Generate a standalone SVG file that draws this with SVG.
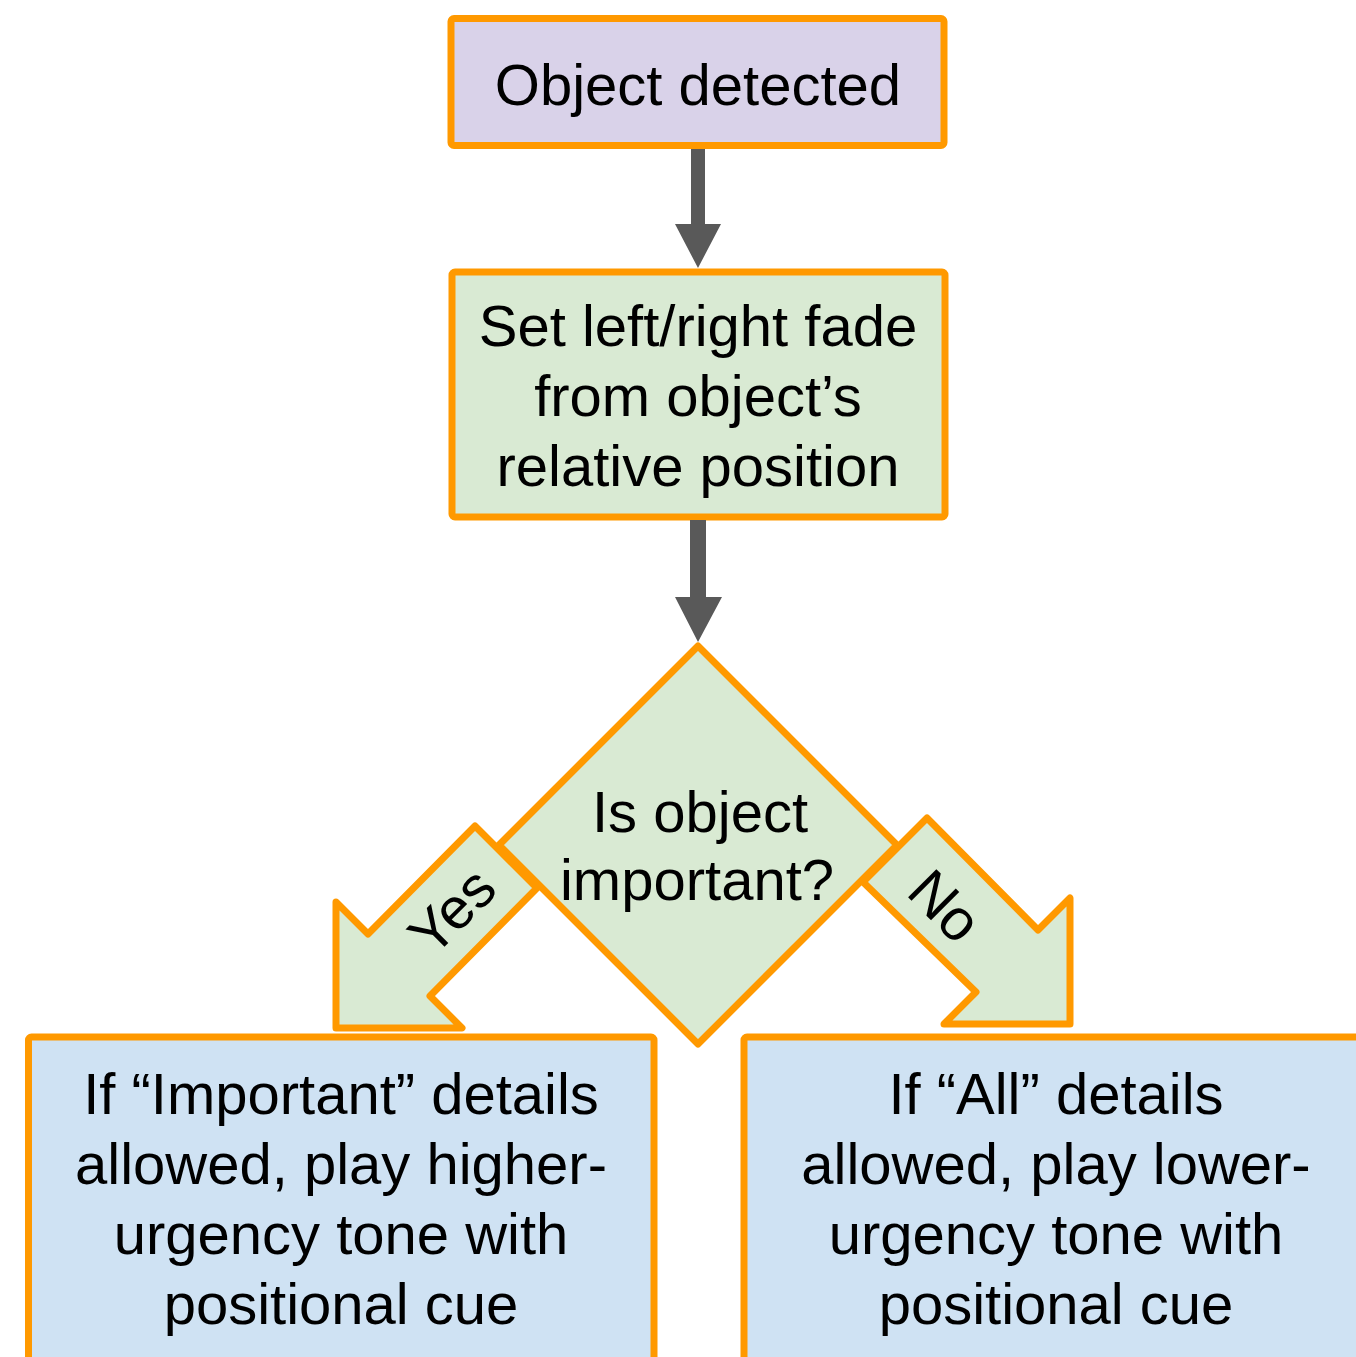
<svg xmlns="http://www.w3.org/2000/svg" width="1356" height="1357" viewBox="0 0 1356 1357">
<style>
.box{stroke:#FF9900;stroke-width:7;stroke-linejoin:round}
.purple{fill:#D9D2E9}
.green{fill:#D9EAD3}
.blue{fill:#CFE2F3}
.t{font-family:"Liberation Sans",Arial,sans-serif;font-size:58px;fill:#000;text-anchor:middle}
.gray{fill:#595959;stroke:none}
.blk{fill:#D9EAD3;stroke:#FF9900;stroke-width:7;stroke-linejoin:round}
</style>
<rect width="1356" height="1357" fill="#FFFFFF"/>
<g id="node-object-detected">
<rect class="box purple" x="451" y="18.5" width="493" height="127" rx="3"/>
<text class="t" x="698" y="105">Object detected</text>
</g>
<g id="node-set-fade">
<rect class="box green" x="452" y="272" width="493" height="245" rx="3"/>
<text class="t" x="698" y="346">Set left/right fade</text>
<text class="t" x="698" y="416">from object’s</text>
<text class="t" x="698" y="486">relative position</text>
</g>
<g id="node-decision">
<polygon class="box green" points="698,646 897,845 698,1044 499,845"/>
<text class="t" x="700" y="832">Is object</text>
<text class="t" x="697" y="900">important?</text>
</g>
<g id="node-important">
<rect class="box blue" x="28.5" y="1037" width="625.5" height="400" rx="3"/>
<text class="t" x="341" y="1114">If “Important” details</text>
<text class="t" x="341" y="1184">allowed, play higher-</text>
<text class="t" x="341" y="1254">urgency tone with</text>
<text class="t" x="341" y="1324">positional cue</text>
</g>
<g id="node-all">
<rect class="box blue" x="744" y="1037" width="624" height="400" rx="3"/>
<text class="t" x="1056" y="1114">If “All” details</text>
<text class="t" x="1056" y="1184">allowed, play lower-</text>
<text class="t" x="1056" y="1254">urgency tone with</text>
<text class="t" x="1056" y="1324">positional cue</text>
</g>
<g id="connectors">
<polygon class="gray" points="691,149 705,149 705,224 721,224 698,268 675,224 691,224"/>
<polygon class="gray" points="690,520 706,520 706,597 722,597 698,642 675,597 690,597"/>
<g id="edge-yes">
<polygon class="blk" points="475,826 537,888 430,996 462,1028 336,1028 336,902 368,934"/>
<text class="t" transform="translate(452,911) rotate(-45)" x="0" y="20">Yes</text>
</g>
<g id="edge-no">
<polygon class="blk" points="927,818 1038,930 1070,898 1070,1024 944,1024 976,992 863,882"/>
<text class="t" transform="translate(945,906) rotate(45)" x="0" y="20">No</text>
</g>
</g>
</svg>
